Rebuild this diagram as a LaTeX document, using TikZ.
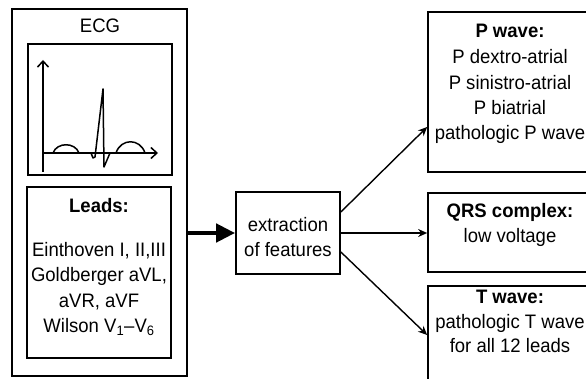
\documentclass[tikz,border=0pt]{standalone}
\usepackage{fontspec}
\setmainfont{Liberation Sans}[FakeStretch=0.95]
\usetikzlibrary{arrows.meta,calc}
\begin{document}
\begin{tikzpicture}[x=1pt,y=-1pt,
  box/.style={draw,line width=1.7pt,inner sep=0,rectangle},
  lbl/.style={font=\fontsize{19.5}{25}\selectfont,inner sep=0,anchor=base},
  hdr/.style={lbl,font=\fontsize{19.5}{25}\selectfont\bfseries},
  conn/.style={line width=1.4pt,-{Stealth[length=9pt,width=8pt]}},
  axis/.style={line width=1.7pt,-{Straight Barb[length=6pt,width=11pt,line width=1.5pt]}},
  curve/.style={line width=1.5pt,line join=round}]
\useasboundingbox (0,0) rectangle (586,379);
\clip (0,0) rectangle (586,379);
% outer ECG box
\node[box,minimum width=175pt,minimum height=367pt] (outer) at (99.5,192.5) {};
\node[lbl] (ecgtitle) at (100,33) {ECG};
\node[box,minimum width=144pt,minimum height=131pt] (plot) at (100,109.5) {};
% plot axes
\coordinate (o) at (43,153);
\coordinate (ytop) at (43,60);
\coordinate (ybot) at (43,172);
\coordinate (xend) at (158,153);
\draw[axis] (ybot) -- (ytop);
\draw[axis] (o) -- (xend);
% ecg trace
\draw[curve] (53,153) .. controls (57,142) and (75,142) .. (79,153) -- (91,153) -- (93,158) -- (95,157) -- (103,89) -- (104,167) -- (110,153) -- (116,153)
  .. controls (121,138) and (140,138) .. (145,153);
% leads box
\node[box,minimum width=144pt,minimum height=171pt] (leads) at (99,272.5) {};
\node[hdr] (leadsh) at (99,213) {Leads:};
\node[lbl] (l1) at (99,257) {Einthoven I, II,III};
\node[lbl] (l2) at (99,282) {Goldberger aVL,};
\node[lbl] (l3) at (99,307) {aVR, aVF};
\node[lbl] (l4) at (99,332) {Wilson V\textsubscript{1}--V\textsubscript{6}};
% extraction box
\node[box,minimum width=104pt,minimum height=82pt] (ext) at (288,233) {};
\node[lbl] (e1) at (288,232) {extraction};
\node[lbl] (e2) at (288,257) {of features};
% big arrow
\draw[line width=4.5pt,-{Triangle[length=19pt,width=18pt]}] (outer.east |- ext.west) -- (ext.west);
% result boxes
\node[box,minimum width=166pt,minimum height=160pt] (pbox) at (511,92) {};
\node[hdr] (p0) at (510,38) {P wave:};
\node[lbl] (p1) at (510,64) {P dextro-atrial};
\node[lbl] (p2) at (510,89.5) {P sinistro-atrial};
\node[lbl] (p3) at (510,114.5) {P biatrial};
\node[lbl] (p4) at (510,139.5) {pathologic P wave};
\node[box,minimum width=166pt,minimum height=79pt] (qbox) at (511,232.5) {};
\node[hdr] (q0) at (510,218) {QRS complex:};
\node[lbl] (q1) at (510,243) {low voltage};
\node[box,minimum width=166pt,minimum height=110pt] (tbox) at (511,341) {};
\node[hdr] (t0) at (510,303) {T wave:};
\node[lbl] (t1) at (510,328) {pathologic T wave};
\node[lbl] (t2) at (510,352) {for all 12 leads};
% connectors
\draw[conn] ([yshift=21pt]ext.east) -- ([yshift=-35pt]pbox.west);
\draw[conn] (ext.east) -- (ext.east -| qbox.west);
\draw[conn] ([yshift=-19pt]ext.east) -- ([yshift=6pt]tbox.west);
\end{tikzpicture}
\end{document}
